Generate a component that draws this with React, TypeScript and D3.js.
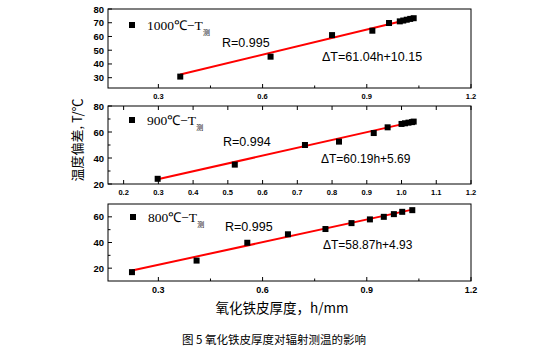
import React from 'react';
import * as d3 from 'd3';

// 1000℃ panel
const h1000 = [0.363, 0.623, 0.8, 0.916, 0.964, 0.995, 1.005, 1.015, 1.025, 1.035];
const t1000 = [30.8, 45.3, 61.0, 64.2, 69.8, 71.0, 71.6, 72.2, 72.8, 73.3];
// 900℃ panel
const h900 = [0.298, 0.52, 0.722, 0.82, 0.92, 0.96, 1.0, 1.01, 1.02, 1.03, 1.035];
const t900 = [24.0, 34.9, 50.0, 52.6, 59.2, 63.6, 66.2, 66.7, 67.2, 67.6, 68.0];
// 800℃ panel
const h800 = [0.224, 0.41, 0.556, 0.673, 0.781, 0.856, 0.909, 0.949, 0.978, 1.002, 1.031];
const t800 = [16.9, 25.9, 39.8, 46.4, 50.5, 55.1, 58.0, 60.0, 62.1, 63.9, 65.2];

const fitSlope = [61.04, 60.19, 58.87];
const fitIntercept = [10.15, 5.69, 4.93];
const rValues = ['0.995', '0.994', '0.995'];
const seriesTemp = ['1000℃−T', '900℃−T', '800℃−T'];

const W = 539;
const H = 354;
const x0 = 108;
const x1 = 471;
const xDomain: [number, number] = [0.155, 1.2];

const panels = [
  { top: 9, bottom: 88, yDom: [22.5, 80], yTicks: [30, 40, 50, 60, 70, 80], yMinor: [] as number[],
    xTicks: [0.3, 0.6, 0.9, 1.2], xMinor: [0.45, 0.75, 1.05], xFont: 7.5, yFont: 9.5, topTicks: false,
    h: h1000, t: t1000, legend: [132, 25], rPos: [222, 47], eqPos: [322, 61], eqSize: 12.5 },
  { top: 106, bottom: 184, yDom: [20, 80], yTicks: [20, 40, 60, 80], yMinor: [30, 50, 70],
    xTicks: [0.2, 0.3, 0.4, 0.5, 0.6, 0.7, 0.8, 0.9, 1.0, 1.1, 1.2], xMinor: [], xFont: 7.5, yFont: 9.5, topTicks: true,
    h: h900, t: t900, legend: [132, 120], rPos: [223, 146], eqPos: [321, 163], eqSize: 12 },
  { top: 204, bottom: 281, yDom: [10, 70], yTicks: [20, 40, 60], yMinor: [30, 50],
    xTicks: [0.3, 0.6, 0.9, 1.2], xMinor: [0.45, 0.75, 1.05], xFont: 9, yFont: 9.5, topTicks: false,
    h: h800, t: t800, legend: [133, 217], rPos: [225, 231], eqPos: [323, 249], eqSize: 12 },
];

const fmtX = (v: number) => (Math.abs(v - 1) < 1e-9 ? '1.0' : d3.format('.1f')(v));

export default function App() {
  const x = d3.scaleLinear().domain(xDomain).range([x0, x1]);
  return (
    <svg width={W} height={H} style={{ display: 'block', position: 'absolute', left: 0, top: 0, background: '#fff' }}>
      {panels.map((p, i) => {
        const y = d3.scaleLinear().domain(p.yDom).range([p.bottom, p.top]);
        const hMin = d3.min(p.h)!;
        const hMax = d3.max(p.h)!;
        const line = d3.line<number>().x(d => x(d)).y(d => y(fitSlope[i] * d + fitIntercept[i]));
        return (
          <g key={i}>
            <rect x={x0} y={p.top} width={x1 - x0} height={p.bottom - p.top} fill="none" stroke="#000" strokeWidth={1} />
            {p.xTicks.map(v => (
              <g key={'xt' + v}>
                <line x1={x(v)} x2={x(v)} y1={p.bottom} y2={p.bottom - 4} stroke="#000" />
                {p.topTicks && <line x1={x(v)} x2={x(v)} y1={p.top} y2={p.top + 4} stroke="#000" />}
                <text x={x(v)} y={p.bottom + 5 + p.xFont * 0.8} textAnchor="middle" fontFamily="Liberation Sans, Arial, sans-serif"
                  fontWeight="bold" fontSize={p.xFont}>{fmtX(v)}</text>
              </g>
            ))}
            {p.xMinor.map(v => (
              <line key={'xm' + v} x1={x(v)} x2={x(v)} y1={p.bottom} y2={p.bottom - 2.5} stroke="#000" />
            ))}
            {p.yTicks.map(v => (
              <g key={'yt' + v}>
                <line x1={x0} x2={x0 + 4} y1={y(v)} y2={y(v)} stroke="#000" />
                <text x={x0 - 4} y={y(v) + 3.5} textAnchor="end" fontFamily="Liberation Sans, Arial, sans-serif"
                  fontWeight="bold" fontSize={p.yFont}>{v}</text>
              </g>
            ))}
            {p.yMinor.map(v => (
              <line key={'ym' + v} x1={x0} x2={x0 + 2.5} y1={y(v)} y2={y(v)} stroke="#000" />
            ))}
            <path d={line([hMin, hMax]) || ''} stroke="#ff0000" strokeWidth={2} fill="none" />
            {p.h.map((hv, j) => (
              <rect key={'pt' + j} x={x(hv) - 3} y={y(p.t[j]) - 3} width={6} height={6} fill="#000" />
            ))}
            <rect x={p.legend[0] - 3} y={p.legend[1] - 3} width={6} height={6} fill="#000" />
            <text x={p.legend[0] + 15} y={p.legend[1] + 5} fontFamily="Liberation Serif, Times New Roman, serif" fontSize={13.5}>
              {seriesTemp[i]}
              <tspan fontFamily="Noto Sans CJK SC" fontSize={7} dy={5}>测</tspan>
            </text>
            <text x={p.rPos[0]} y={p.rPos[1]} fontFamily="Liberation Sans, Arial, sans-serif" fontSize={12.5}>R={rValues[i]}</text>
            <text x={p.eqPos[0]} y={p.eqPos[1]} fontFamily="Liberation Sans, Arial, sans-serif" fontSize={p.eqSize}>
              ΔT={fitSlope[i]}h+{fitIntercept[i]}
            </text>
          </g>
        );
      })}
      <text transform="translate(82,140) rotate(-90)" textAnchor="middle" fontFamily="Noto Sans CJK SC, sans-serif" fontSize={13}>
        温度偏差, T/℃
      </text>
      <text x={282} y={313} textAnchor="middle" fontFamily="Noto Sans CJK SC, sans-serif" fontSize={13.5}>
        氧化铁皮厚度，h/mm
      </text>
      <text x={274} y={344} textAnchor="middle" fontFamily="Noto Sans CJK SC, sans-serif" fontSize={11.5}>
        图 5 氧化铁皮厚度对辐射测温的影响
      </text>
    </svg>
  );
}
